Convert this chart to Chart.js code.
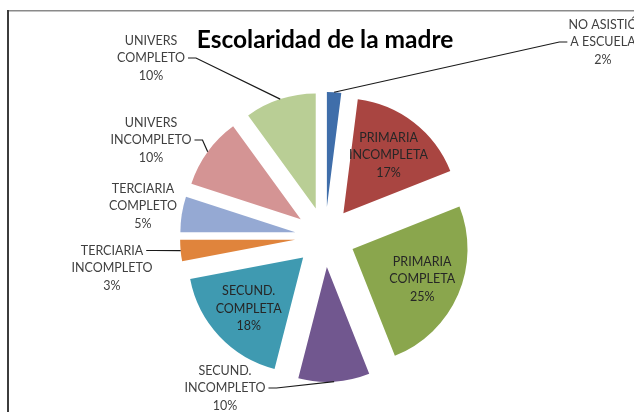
<!DOCTYPE html>
<html>
<head>
<meta charset="utf-8">
<script src="https://cdn.jsdelivr.net/npm/chart.js@4"></script>
<style>
html,body{margin:0;padding:0;background:#fff}
</style>
</head>
<body>
<canvas id="pieChart" width="634" height="412"></canvas>
<script>
// data
const categories=[["NO ASISTIÓ","A ESCUELA"],["PRIMARIA","INCOMPLETA"],["PRIMARIA","COMPLETA"],["SECUND.","INCOMPLETO"],["SECUND.","COMPLETA"],["TERCIARIA","INCOMPLETO"],["TERCIARIA","COMPLETO"],["UNIVERS","INCOMPLETO"],["UNIVERS","COMPLETO"]]
const percents=[2,17,25,10,18,3,5,10,10]
const chartTitle="Escolaridad de la madre"

const sliceColors=["#3f6eaa","#a94541","#8aa64d","#71578f","#3f9ab1","#e0843c","#95a9d3","#d49494","#b9ce95"]

// label placement: inside = fraction of radius, otherwise offset from pie center
const labelPlace=[
{dx:278,dy:-195,row:1,side:-1},
{inside:0.64},
{inside:0.66},
{dx:-100,dy:151,row:1,side:1},
{inside:0.65},
{dx:-213,dy:31,row:0,side:1},
{dx:-182,dy:-31},
{dx:-174,dy:-97,row:1,side:1},
{dx:-174,dy:-179,row:1,side:1}
]

const GAP=30
const LH=17.5
const FONT="12.5px Lato"

const explode={
id:"explode",
beforeDatasetDraw(chart,args){
const ctx=chart.ctx
args.meta.data.forEach(arc=>{
const mid=(arc.startAngle+arc.endAngle)/2
ctx.save()
ctx.translate(Math.cos(mid)*GAP,Math.sin(mid)*GAP)
arc.draw(ctx)
ctx.restore()
})
return false
}
}

const frame={
id:"frame",
beforeDraw(chart){
const ctx=chart.ctx
ctx.save()
ctx.strokeStyle="#8a8a8a"
ctx.lineWidth=1.5
ctx.beginPath()
ctx.moveTo(7,10.75)
ctx.lineTo(640,10.75)
ctx.stroke()
ctx.strokeStyle="#3c3c3c"
ctx.lineWidth=2
ctx.beginPath()
ctx.moveTo(8,10)
ctx.lineTo(8,420)
ctx.stroke()
ctx.restore()
}
}

const sliceLabels={
id:"sliceLabels",
afterDatasetsDraw(chart){
const ctx=chart.ctx
const arcs=chart.getDatasetMeta(0).data
ctx.save()
ctx.font=FONT
ctx.textAlign="center"
ctx.textBaseline="middle"
arcs.forEach((arc,i)=>{
const mid=(arc.startAngle+arc.endAngle)/2
const cx=arc.x+Math.cos(mid)*GAP
const cy=arc.y+Math.sin(mid)*GAP
const r=arc.outerRadius
const rows=categories[i].concat([percents[i]+"%"])
const p=labelPlace[i]
let x,y
if(p.inside){
x=cx+Math.cos(mid)*r*p.inside
y=cy+Math.sin(mid)*r*p.inside
ctx.fillStyle="#262626"
}else{
x=arc.x+p.dx
y=arc.y+p.dy
ctx.fillStyle="#404040"
}
rows.forEach((t,k)=>ctx.fillText(t,x,y+(k-1)*LH))
if(p.row!==undefined){
const ry=y+(p.row-1)*LH
const lx=x+p.side*(ctx.measureText(rows[p.row]).width/2+3)
ctx.strokeStyle="#1a1a1a"
ctx.lineWidth=1.2
ctx.beginPath()
ctx.moveTo(lx,ry)
ctx.lineTo(lx+p.side*8,ry)
ctx.lineTo(cx+Math.cos(mid)*r,cy+Math.sin(mid)*r)
ctx.stroke()
}
})
ctx.restore()
}
}

function drawChart(){
new Chart(document.getElementById("pieChart"),{
type:"pie",
data:{
labels:categories.map(c=>c.join(" ")),
datasets:[{
data:percents,
backgroundColor:sliceColors,
borderWidth:0,
radius:115
}]
},
options:{
responsive:false,
animation:false,
layout:{padding:{left:16,right:0,top:0,bottom:0}},
plugins:{
legend:{display:false},
tooltip:{enabled:false},
title:{
display:true,
text:chartTitle,
color:"#000",
font:{family:"Lato",size:24.5,weight:"bold"},
padding:{top:25.3,bottom:7.3}
}
}
},
plugins:[frame,explode,sliceLabels]
})
}

Promise.all([document.fonts.load(FONT),document.fonts.load("bold 24.5px Lato")]).then(drawChart,drawChart)
</script>
</body>
</html>
